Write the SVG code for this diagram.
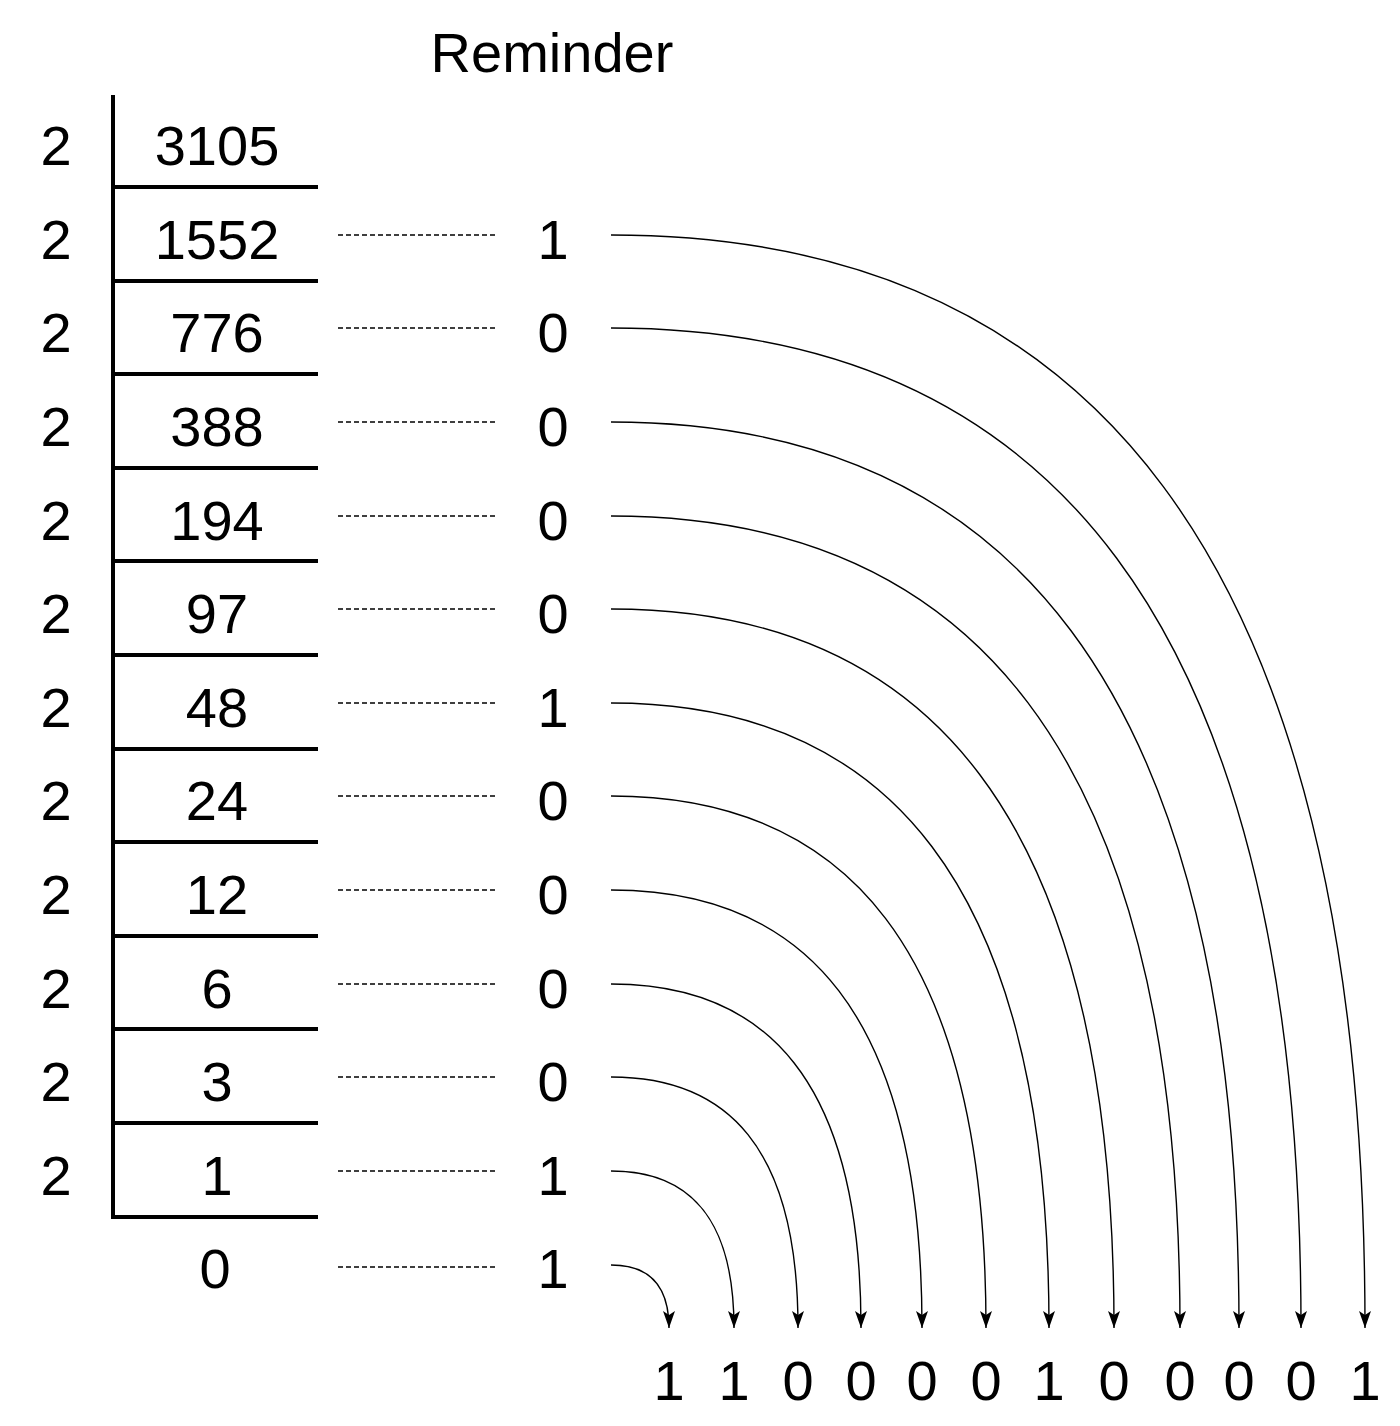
<svg xmlns="http://www.w3.org/2000/svg" width="1400" height="1426" viewBox="0 0 1400 1426">
<style>
text{font-family:"Liberation Sans","DejaVu Sans",sans-serif;font-size:56px;fill:#000;text-anchor:middle}
.rule{stroke:#000;stroke-width:4;fill:none}
.dash{stroke:#000;stroke-width:1.3;stroke-dasharray:5 3;fill:none}
.arc{stroke:#000;stroke-width:1.4;fill:none;marker-end:url(#ah)}
</style>
<defs>
<marker id="ah" markerUnits="userSpaceOnUse" markerWidth="20" markerHeight="16" viewBox="0 -8 20 16" refX="17" refY="0" orient="auto">
<path d="M0,-6 L17,0 L0,6 L4,0 Z" fill="#000"/>
</marker>
</defs>
<rect width="1400" height="1426" fill="#fff"/>
<g id="title"><text x="552" y="72">Reminder</text></g>
<g id="frame">
<line class="rule" x1="113" y1="95" x2="113" y2="1218"/>
<line class="rule" x1="113" y1="187" x2="318" y2="187"/>
<line class="rule" x1="113" y1="281" x2="318" y2="281"/>
<line class="rule" x1="113" y1="374" x2="318" y2="374"/>
<line class="rule" x1="113" y1="468" x2="318" y2="468"/>
<line class="rule" x1="113" y1="561" x2="318" y2="561"/>
<line class="rule" x1="113" y1="655" x2="318" y2="655"/>
<line class="rule" x1="113" y1="749" x2="318" y2="749"/>
<line class="rule" x1="113" y1="842" x2="318" y2="842"/>
<line class="rule" x1="113" y1="936" x2="318" y2="936"/>
<line class="rule" x1="113" y1="1029" x2="318" y2="1029"/>
<line class="rule" x1="113" y1="1123" x2="318" y2="1123"/>
<line class="rule" x1="111" y1="1217" x2="318" y2="1217"/>
</g>
<g id="divisors">
<text x="56" y="165">2</text><text x="56" y="259">2</text><text x="56" y="352">2</text><text x="56" y="446">2</text>
<text x="56" y="540">2</text><text x="56" y="633">2</text><text x="56" y="727">2</text><text x="56" y="820">2</text>
<text x="56" y="914">2</text><text x="56" y="1008">2</text><text x="56" y="1101">2</text><text x="56" y="1195">2</text>
</g>
<g id="quotients">
<text x="217" y="165">3105</text><text x="217" y="259">1552</text><text x="217" y="352">776</text><text x="217" y="446">388</text>
<text x="217" y="540">194</text><text x="217" y="633">97</text><text x="217" y="727">48</text><text x="217" y="820">24</text>
<text x="217" y="914">12</text><text x="217" y="1008">6</text><text x="217" y="1101">3</text><text x="217" y="1195">1</text>
<text x="215" y="1288">0</text>
</g>
<g id="remainders">
<text x="553" y="259">1</text><text x="553" y="352">0</text><text x="553" y="446">0</text><text x="553" y="540">0</text>
<text x="553" y="633">0</text><text x="553" y="727">1</text><text x="553" y="820">0</text><text x="553" y="914">0</text>
<text x="553" y="1008">0</text><text x="553" y="1101">0</text><text x="553" y="1195">1</text><text x="553" y="1288">1</text>
</g>
<g id="result">
<text x="669" y="1400">1</text><text x="734" y="1400">1</text><text x="798" y="1400">0</text><text x="861" y="1400">0</text>
<text x="922" y="1400">0</text><text x="986" y="1400">0</text><text x="1049" y="1400">1</text><text x="1114" y="1400">0</text>
<text x="1180" y="1400">0</text><text x="1239" y="1400">0</text><text x="1301" y="1400">0</text><text x="1365" y="1400">1</text>
</g>
<g id="connectors">
<line class="dash" x1="338" y1="235" x2="498" y2="235"/>
<line class="dash" x1="338" y1="328" x2="498" y2="328"/>
<line class="dash" x1="338" y1="422" x2="498" y2="422"/>
<line class="dash" x1="338" y1="516" x2="498" y2="516"/>
<line class="dash" x1="338" y1="609" x2="498" y2="609"/>
<line class="dash" x1="338" y1="703" x2="498" y2="703"/>
<line class="dash" x1="338" y1="796" x2="498" y2="796"/>
<line class="dash" x1="338" y1="890" x2="498" y2="890"/>
<line class="dash" x1="338" y1="984" x2="498" y2="984"/>
<line class="dash" x1="338" y1="1077" x2="498" y2="1077"/>
<line class="dash" x1="338" y1="1171" x2="498" y2="1171"/>
<line class="dash" x1="338" y1="1267" x2="498" y2="1267"/>
<path class="arc" d="M611,235 C1078,235 1365,541 1365,1328"/>
<path class="arc" d="M611,328 C1039,328 1301,608 1301,1328"/>
<path class="arc" d="M611,422 C1000,422 1239,676 1239,1328"/>
<path class="arc" d="M611,516 C964,516 1180,743 1180,1328"/>
<path class="arc" d="M611,609 C923,609 1114,810 1114,1328"/>
<path class="arc" d="M611,703 C883,703 1049,878 1049,1328"/>
<path class="arc" d="M611,796 C843,796 986,945 986,1328"/>
<path class="arc" d="M611,890 C804,890 922,1013 922,1328"/>
<path class="arc" d="M611,984 C766,984 861,1080 861,1328"/>
<path class="arc" d="M611,1077 C727,1077 798,1147 798,1328"/>
<path class="arc" d="M611,1171 C687,1171 734,1215 734,1328"/>
<path class="arc" d="M611,1265 C647,1265 669,1283 669,1328"/>
</g>
</svg>
